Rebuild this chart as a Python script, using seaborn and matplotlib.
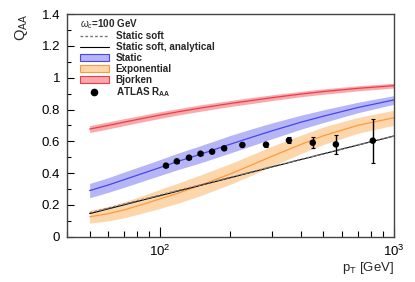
import numpy as np
import pandas as pd
import matplotlib
matplotlib.use('Agg')
import matplotlib.pyplot as plt
from matplotlib.lines import Line2D
from matplotlib.patches import Patch
from matplotlib.ticker import MultipleLocator, NullFormatter, FuncFormatter
import seaborn as sns

# values
pt = [50, 60, 70, 85, 100, 120, 150, 200, 250, 300, 400, 500, 700, 1000]

bjorken = [0.677, 0.700, 0.720, 0.745, 0.765, 0.786, 0.810, 0.838, 0.858, 0.874, 0.897, 0.913, 0.933, 0.950]
bjorken_err = [0.022, 0.022, 0.022, 0.021, 0.021, 0.020, 0.020, 0.019, 0.019, 0.018, 0.017, 0.017, 0.016, 0.015]

static = [0.290, 0.325, 0.358, 0.400, 0.435, 0.475, 0.520, 0.582, 0.628, 0.665, 0.720, 0.758, 0.812, 0.860]
static_err = [0.045, 0.046, 0.048, 0.049, 0.050, 0.052, 0.054, 0.055, 0.053, 0.050, 0.044, 0.040, 0.033, 0.027]

expo = [0.125, 0.145, 0.168, 0.205, 0.238, 0.275, 0.325, 0.395, 0.455, 0.505, 0.580, 0.635, 0.700, 0.748]
expo_err = [0.040, 0.045, 0.050, 0.055, 0.060, 0.063, 0.065, 0.065, 0.064, 0.063, 0.058, 0.055, 0.050, 0.047]

soft = [0.150, 0.180, 0.205, 0.236, 0.262, 0.292, 0.327, 0.374, 0.410, 0.440, 0.486, 0.522, 0.577, 0.633]
soft_analytic = [0.145, 0.175, 0.200, 0.232, 0.258, 0.288, 0.324, 0.371, 0.408, 0.438, 0.485, 0.521, 0.576, 0.633]

atlas_pt = [106, 118, 133, 149, 167, 188, 225, 284, 356, 450, 565, 813]
atlas_raa = [0.447, 0.474, 0.497, 0.522, 0.535, 0.556, 0.577, 0.579, 0.606, 0.591, 0.581, 0.604]
atlas_err = [0.008, 0.008, 0.008, 0.008, 0.008, 0.008, 0.008, 0.012, 0.019, 0.033, 0.060, 0.138]

sns.set_style('ticks')
plt.rcParams['font.family'] = ['Liberation Sans', 'DejaVu Sans']
plt.rcParams['mathtext.fontset'] = 'custom'
plt.rcParams['mathtext.rm'] = 'Liberation Sans'
plt.rcParams['mathtext.it'] = 'Liberation Sans:italic'
plt.rcParams['mathtext.bf'] = 'Liberation Sans:bold'

fig = plt.figure(figsize=(4.15, 2.82), dpi=100)
ax = fig.add_axes([0.1614, 0.1606, 0.7876, 0.7894])

bands = [
    (bjorken, bjorken_err, '#f7a9ad', '#f03c46'),
    (static, static_err, '#b6b6f7', '#4646f0'),
    (expo, expo_err, '#fdd6ac', '#ff9a3c'),
]
for vals, err, fc, lc in bands:
    v = np.array(vals)
    e = np.array(err)
    ax.fill_between(pt, v - e, v + e, color=fc, lw=0)
    sns.lineplot(x=pt, y=vals, color=lc, lw=0.9, ax=ax)

sns.lineplot(x=pt, y=soft_analytic, color='black', lw=0.8, ax=ax)
sns.lineplot(x=pt, y=soft, color='#777777', lw=1.0, ax=ax, linestyle=(0, (2, 1.5)))

ax.errorbar(atlas_pt, atlas_raa, yerr=atlas_err, fmt='none', ecolor='black',
            elinewidth=1.0, capsize=1.5, capthick=0.8)
sns.scatterplot(x=atlas_pt, y=atlas_raa, color='black', s=22, edgecolor='none', ax=ax, zorder=5)

ax.set_xscale('log')
ax.set_xlim(40, 1000)
ax.set_ylim(0, 1.4)
ax.xaxis.set_minor_formatter(NullFormatter())
ax.yaxis.set_major_locator(MultipleLocator(0.2))
ax.yaxis.set_minor_locator(MultipleLocator(0.1))
ax.yaxis.set_major_formatter(FuncFormatter(lambda v, p: '%g' % round(v, 2)))

ax.tick_params(direction='in', which='both', labelsize=9.5, colors='black', top=False, right=False)
ax.tick_params(axis='y', which='major', length=5, width=0.8, pad=5)
ax.tick_params(axis='y', which='minor', length=3, width=0.8)
ax.tick_params(axis='x', which='major', length=7, width=0.8, pad=5)
ax.tick_params(axis='x', which='minor', length=4, width=0.8)
for s in ax.spines.values():
    s.set_color('#444444')
    s.set_linewidth(1.0)

ax.set_xlabel(r'p$_\mathrm{T}$ [GeV]', fontsize=9.5, loc='right', labelpad=1)
ax.set_ylabel(r'Q$_\mathrm{AA}$', fontsize=10.5, loc='top', labelpad=8)

# legend header
ax.text(0.04, 0.953, r'$\omega_c$=100 GeV', transform=ax.transAxes, ha='left', va='center',
        fontsize=7.1, fontweight='bold')

handles = [
    Line2D([], [], color='#777777', lw=1.0, linestyle=(0, (2, 1.5))),
    Line2D([], [], color='black', lw=0.8),
    Patch(facecolor='#b6b6f7', edgecolor='#4646f0', lw=0.8),
    Patch(facecolor='#fdd6ac', edgecolor='#ff9a3c', lw=0.8),
    Patch(facecolor='#f7a9ad', edgecolor='#f03c46', lw=0.8),
    Line2D([], [], color='black', marker='o', markersize=4.5, lw=0),
]
labels = ['Static soft', 'Static soft, analytical', 'Static', 'Exponential', 'Bjorken',
          r'ATLAS R$_\mathbf{AA}$']
leg = ax.legend(handles, labels, loc='upper left', bbox_to_anchor=(0.04, 0.922),
                frameon=False, prop={'weight': 'bold', 'size': 7.1},
                handlelength=2.9, handleheight=0.7, handletextpad=0.7,
                labelspacing=0.08, borderpad=0.0, borderaxespad=0.0)

fig.savefig('out.png', dpi=100)
